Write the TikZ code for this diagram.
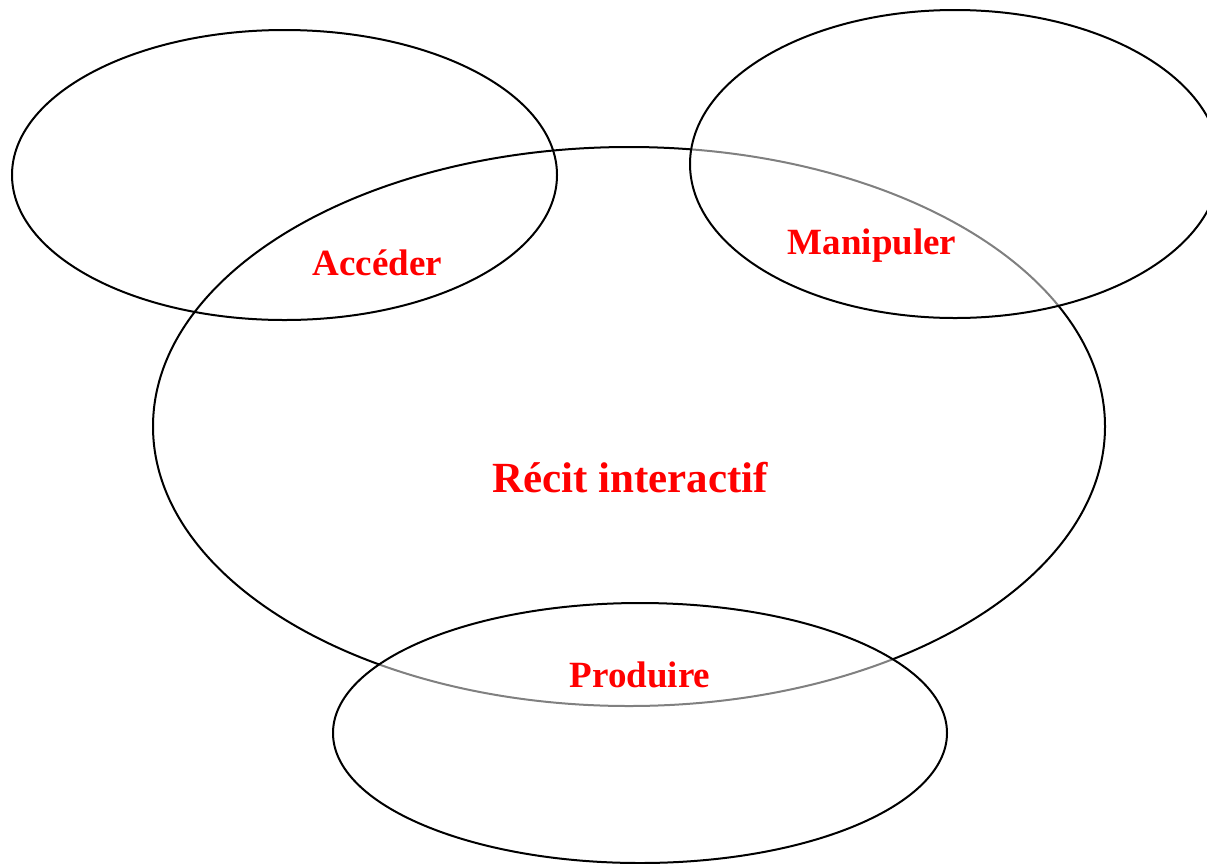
\documentclass[tikz,border=0pt]{standalone}
\usepackage{fontspec}
\setmainfont{Liberation Serif}
\begin{document}
\begin{tikzpicture}[x=1pt,y=-1pt,
  ring/.style={draw=black,line width=2pt},
  veil/.style={ring,fill=white,fill opacity=0.5},
  lbl/.style={text=red,font=\bfseries\fontsize{37}{40}\selectfont,anchor=base,inner sep=0pt},
  biglbl/.style={lbl,font=\bfseries\fontsize{43}{46}\selectfont}]
\useasboundingbox (0,0) rectangle (1207,863);
\begin{scope}
\clip (0,0) rectangle (1207,863);
\draw[ring] (284.5,175) ellipse [x radius=272.5, y radius=145];
\draw[ring] (629,426.5) ellipse [x radius=476, y radius=279.5];
\draw[veil] (955,164) ellipse [x radius=265, y radius=154];
\draw[veil] (640,733) ellipse [x radius=307, y radius=130];
\end{scope}
\node[lbl] (acc) at (377.5,275.5) {Accéder};
\node[lbl] (man) at (872,254) {Manipuler};
\node[biglbl] (rec) at (630,492) {Récit interactif};
\node[lbl] (pro) at (640,687.5) {Produire};
\end{tikzpicture}
\end{document}
